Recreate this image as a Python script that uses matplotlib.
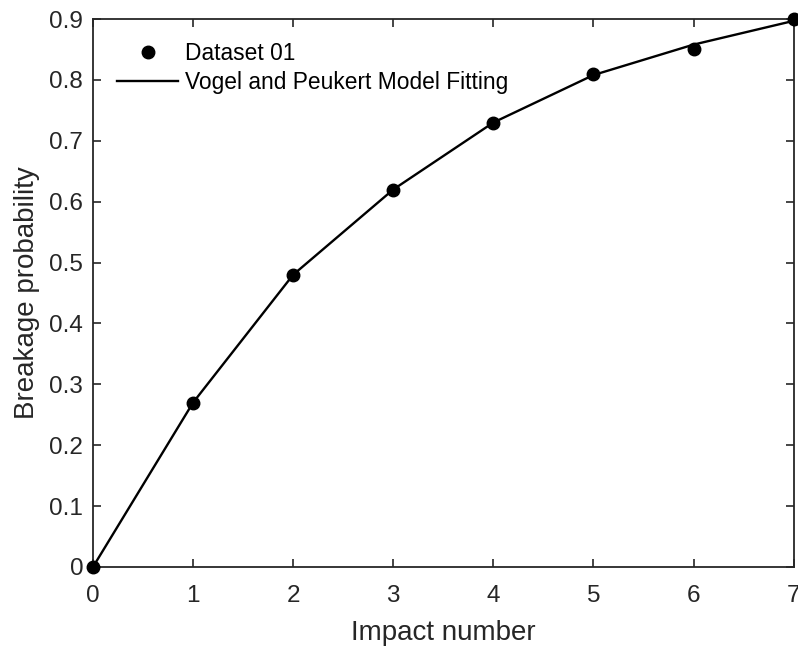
import numpy as np
import matplotlib.pyplot as plt

plt.rcParams['font.family'] = ['Liberation Sans', 'DejaVu Sans']

# Measured breakage probability per impact
impacts = [0, 1, 2, 3, 4, 5, 6, 7]
breakage = [0.0, 0.27, 0.48, 0.62, 0.73, 0.81, 0.85, 0.90]

# Vogel and Peukert model evaluated at each impact number
fit_impacts = [0, 1, 2, 3, 4, 5, 6, 7]
fit_breakage = [0.0, 0.27, 0.48, 0.62, 0.73, 0.808, 0.858, 0.897]

x_ticks = [0, 1, 2, 3, 4, 5, 6, 7]
y_ticks = [0, 0.1, 0.2, 0.3, 0.4, 0.5, 0.6, 0.7, 0.8, 0.9]

fig = plt.figure(figsize=(7.98, 6.5), dpi=100)
ax = fig.add_axes([0.1165, 0.1277, 0.878, 0.843])

ax.plot(impacts, breakage, 'o', color='black', markersize=9,
        label='Dataset 01', clip_on=False, zorder=3)
ax.plot(fit_impacts, fit_breakage, '-', color='black', linewidth=1.7,
        label='Vogel and Peukert Model Fitting', clip_on=False, zorder=2)

ax.set_xlim(0, 7)
ax.set_ylim(0, 0.9)
ax.set_xticks(x_ticks)
ax.set_yticks(y_ticks)
ax.set_xticklabels([str(t) for t in x_ticks])
ax.set_yticklabels(['0'] + [f'{t:.1f}' for t in y_ticks[1:]])

for s in ax.spines.values():
    s.set_color('#262626')
    s.set_linewidth(1.3)
ax.tick_params(direction='in', length=6, width=1.2, color='#262626',
               top=True, right=True, labelsize=17.5, labelcolor='#262626')
ax.tick_params(axis='x', pad=13)
ax.tick_params(axis='y', pad=7)

ax.set_xlabel('Impact number', fontsize=20, color='#262626', labelpad=9)
ax.set_ylabel('Breakage probability', fontsize=20, color='#262626', labelpad=7)

ax.legend(loc='upper left', frameon=False, fontsize=16.4, handlelength=2.7,
          handletextpad=0.3, borderaxespad=0.0, bbox_to_anchor=(0.021, 0.975),
          labelspacing=0.25)

fig.savefig('out.png', dpi=100)
